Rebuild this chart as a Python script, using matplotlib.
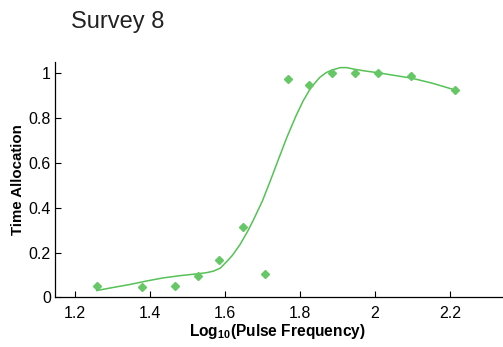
import matplotlib.pyplot as plt

# survey 8 measurements
log_freq = [1.258, 1.378, 1.467, 1.527, 1.585, 1.647, 1.708, 1.767, 1.825,
            1.885, 1.947, 2.007, 2.096, 2.214]
time_alloc = [0.053, 0.046, 0.049, 0.095, 0.166, 0.313, 0.104, 0.972, 0.944,
              0.996, 0.996, 0.996, 0.985, 0.921]

# fitted curve, sampled
fit_x = [1.258, 1.300, 1.347, 1.390, 1.435, 1.480, 1.525, 1.550, 1.569, 1.587,
         1.605, 1.620, 1.640, 1.660, 1.675, 1.700, 1.720, 1.745, 1.765, 1.790,
         1.809, 1.830, 1.853, 1.870, 1.885, 1.907, 1.925, 1.942, 1.970, 2.009,
         2.050, 2.098, 2.150, 2.213]
fit_y = [0.031, 0.044, 0.058, 0.073, 0.087, 0.097, 0.105, 0.110, 0.117, 0.130,
         0.160, 0.188, 0.235, 0.293, 0.342, 0.430, 0.515, 0.625, 0.712, 0.810,
         0.876, 0.935, 0.979, 1.000, 1.011, 1.022, 1.022, 1.016, 1.008, 0.999,
         0.988, 0.975, 0.954, 0.923]

xticks = [1.2, 1.4, 1.6, 1.8, 2.0, 2.2]
xtick_labels = ['1.2', '1.4', '1.6', '1.8', '2', '2.2']
yticks = [0, 0.2, 0.4, 0.6, 0.8, 1.0]
ytick_labels = ['0', '0.2', '0.4', '0.6', '0.8', '1']

plt.rcParams['font.family'] = ['Liberation Sans', 'DejaVu Sans']
plt.rcParams['mathtext.fontset'] = 'custom'
plt.rcParams['mathtext.rm'] = 'Liberation Sans:bold'
plt.rcParams['mathtext.default'] = 'rm'

fig = plt.figure(figsize=(5.03, 3.47), dpi=100)
ax = fig.add_axes([0.1093, 0.1427, 0.8907, 0.6786])

ax.plot(fit_x, fit_y, color='#55c255', lw=1.1, zorder=2)
ax.plot(log_freq, time_alloc, linestyle='none', marker='D', markersize=3.8,
        color='#66c766', markeredgecolor='#66c766', zorder=3)

ax.set_xlim(1.1467, 2.3413)
ax.set_ylim(0, 1.047)
ax.set_xticks(xticks)
ax.set_xticklabels(xtick_labels)
ax.set_yticks(yticks)
ax.set_yticklabels(ytick_labels)
ax.tick_params(direction='in', length=4, width=0.8, labelsize=11.5,
               colors='black')
ax.tick_params(axis='x', pad=6)
ax.tick_params(axis='y', pad=3)

for side in ['top', 'right']:
    ax.spines[side].set_visible(False)
for side in ['left', 'bottom']:
    ax.spines[side].set_linewidth(0.9)

ax.set_xlabel('Log$_{10}$(Pulse Frequency)', fontweight='bold', fontsize=11.2)
ax.xaxis.set_label_coords(0.496, -0.105)
ax.set_ylabel('Time Allocation', fontweight='bold', fontsize=10.8)
ax.yaxis.set_label_coords(-0.067, 0.5)

fig.text(0.141, 0.918, 'Survey 8', fontsize=17, ha='left', va='baseline',
         color='#222222')

fig.savefig('out.png', dpi=100)
